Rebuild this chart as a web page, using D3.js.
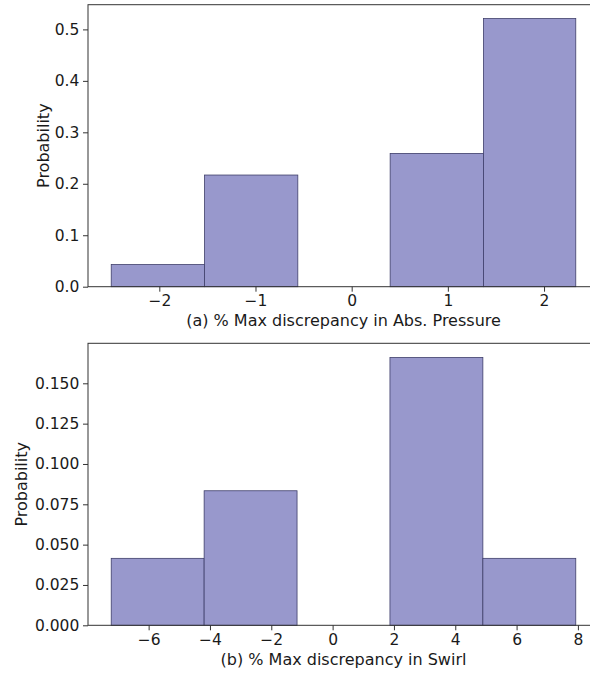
<!DOCTYPE html>
<html lang="en">
<head>
<meta charset="UTF-8">
<script src="https://d3js.org/d3.v7.min.js"></script>
<style>
  body { margin: 0; background: #fff; }
  svg text { font-family: "DejaVu Sans", sans-serif; fill: #1a1a1a; }
  .tick line { stroke: #333; }
  .domain { display: none; }
</style>
</head>
<body>
<script>
// histogram (a): bin edges and probability density
const edgesA = [-2.50, -1.53, -0.56, 0.40, 1.37, 2.33];
const probA = [0.043, 0.217, 0, 0.259, 0.521];
const ticksXA = [-2, -1, 0, 1, 2];
const ticksYA = [0.0, 0.1, 0.2, 0.3, 0.4, 0.5];
const labelA = "(a) % Max discrepancy in Abs. Pressure";

// histogram (b)
const edgesB = [-7.22, -4.19, -1.16, 1.87, 4.90, 7.93];
const probB = [0.0415, 0.0834, 0, 0.166, 0.0415];
const ticksXB = [-6, -4, -2, 0, 2, 4, 6, 8];
const ticksYB = [0.000, 0.025, 0.050, 0.075, 0.100, 0.125, 0.150];
const labelB = "(b) % Max discrepancy in Swirl";

const yLabel = "Probability";

const w = 590, h = 673;
const tickFont = 15.5;
const labelFont = 16;

const svg = d3.select("body").append("svg")
  .attr("width", w)
  .attr("height", h);

function panel(opt) {
  const g = svg.append("g");
  const span = opt.edges[opt.edges.length - 1] - opt.edges[0];
  const x = d3.scaleLinear()
    .domain([opt.edges[0] - span * 0.05, opt.edges[opt.edges.length - 1] + span * 0.05])
    .range([88, 599]);
  const y = d3.scaleLinear()
    .domain([0, opt.yMax])
    .range([opt.bottom, opt.top]);

  const bins = opt.probs.map((p, i) => ({x0: opt.edges[i], x1: opt.edges[i + 1], p: p}));

  g.selectAll("rect.bar")
    .data(bins)
    .enter()
    .append("rect")
    .attr("class", "bar")
    .attr("x", d => x(d.x0))
    .attr("y", d => y(d.p))
    .attr("width", d => x(d.x1) - x(d.x0))
    .attr("height", d => y(0) - y(d.p))
    .attr("fill", "#9898cc")
    .attr("stroke", "#3f3f6a")
    .attr("stroke-width", 0.8);

  // frame
  g.append("rect")
    .attr("x", x.range()[0])
    .attr("y", opt.top)
    .attr("width", x.range()[1] - x.range()[0])
    .attr("height", opt.bottom - opt.top)
    .attr("fill", "none")
    .attr("stroke", "#333")
    .attr("stroke-width", 1);

  const xAxis = d3.axisBottom(x)
    .tickValues(opt.ticksX)
    .tickSize(5)
    .tickPadding(3.3)
    .tickFormat(d3.format("d"));
  g.append("g")
    .attr("transform", "translate(0," + opt.bottom + ")")
    .call(xAxis)
    .selectAll("text")
    .style("font-size", tickFont + "px");

  const yAxis = d3.axisLeft(y)
    .tickValues(opt.ticksY)
    .tickSize(5)
    .tickPadding(3.7)
    .tickFormat(d3.format(opt.yFmt));
  g.append("g")
    .attr("transform", "translate(" + x.range()[0] + ",0)")
    .call(yAxis)
    .selectAll("text")
    .style("font-size", tickFont + "px");

  g.append("text")
    .attr("x", (x.range()[0] + x.range()[1]) / 2)
    .attr("y", opt.xLabelY)
    .attr("text-anchor", "middle")
    .style("font-size", labelFont + "px")
    .text(opt.xLabel);

  g.append("text")
    .attr("transform", "translate(" + opt.yLabelX + "," + (opt.top + opt.bottom) / 2 + ") rotate(-90)")
    .attr("text-anchor", "middle")
    .style("font-size", labelFont + "px")
    .text(yLabel);
}

panel({
  edges: edgesA, probs: probA, ticksX: ticksXA, ticksY: ticksYA,
  yMax: 0.548, top: 4.7, bottom: 286.7, yFmt: ".1f",
  xLabel: labelA, xLabelY: 325.5, yLabelX: 48.5
});

panel({
  edges: edgesB, probs: probB, ticksX: ticksXB, ticksY: ticksYB,
  yMax: 0.1748, top: 343.3, bottom: 625.3, yFmt: ".3f",
  xLabel: labelB, xLabelY: 664.5, yLabelX: 27
});
</script>
</body>
</html>
